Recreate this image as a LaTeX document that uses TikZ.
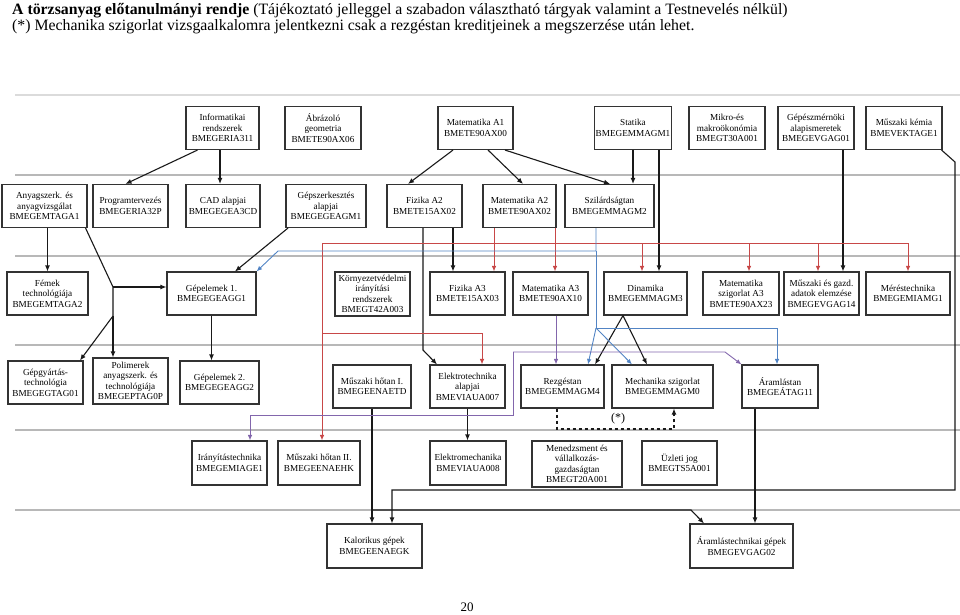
\documentclass[tikz,border=0pt]{standalone}
\usepackage{fontspec}
\setmainfont{Liberation Serif}
\usetikzlibrary{arrows.meta}
\definecolor{redc}{RGB}{200,72,72}
\definecolor{bluec}{RGB}{82,132,196}
\definecolor{purpc}{RGB}{130,102,172}
\begin{document}
\begin{tikzpicture}[x=1pt,y=-1pt,
  box/.style={draw=black!80, line width=1.1pt, align=center, inner sep=1pt, minimum height=43pt, font=\fontsize{9.2}{10.5}\selectfont},
  arr/.style={-{Latex[length=6pt,width=5pt]}, line width=1.1pt, black!90},
  line/.style={line width=1.1pt, black!90},
  redarr/.style={-{Latex[length=5.5pt,width=4.5pt]}, line width=0.9pt, redc},
  bluearr/.style={-{Latex[length=5.5pt,width=4.5pt]}, line width=0.9pt, bluec},
  purparr/.style={-{Latex[length=5.5pt,width=4.5pt]}, line width=0.9pt, purpc},
  lane/.style={black!28, line width=2.2pt}]
\useasboundingbox (0,0) rectangle (960,615);
\node[anchor=base west, inner sep=0, font=\fontsize{15.8}{18}\selectfont] (title) at (12,14.5) {\textbf{A törzsanyag előtanulmányi rendje} (Tájékoztató jelleggel a szabadon választható tárgyak valamint a Testnevelés nélkül)};
\node[anchor=base west, inner sep=0, font=\fontsize{15.8}{18}\selectfont] (note) at (12,31) {(*) Mechanika szigorlat vizsgaalkalomra jelentkezni csak a rezgéstan kreditjeinek a megszerzése után lehet.};
\draw[lane, black!14, line width=1.5pt] (15,95) -- (960,95);
\draw[lane] (15,175) -- (960,175);
\draw[lane] (15,256) -- (960,256);
\draw[lane] (15,345) -- (960,345);
\draw[lane] (15,430) -- (960,430);
\draw[lane] (15,510) -- (960,510);
\node[box, minimum width=73pt] (inf) at (222.5,128) {Informatikai\\rendszerek\\BMEGERIA311};
\node[box, minimum width=76pt] (abr) at (323,128) {Ábrázoló\\geometria\\BMETE90AX06};
\node[box, minimum width=75pt] (mata1) at (475.5,128) {Matematika A1\\BMETE90AX00};
\node[box, minimum width=76pt] (stat) at (633,128) {Statika\\BMEGEMMAGM1};
\node[box, minimum width=76pt] (mikro) at (727,128) {Mikro-és\\makroökonómia\\BMEGT30A001};
\node[box, minimum width=76pt] (gepalap) at (816,128) {Gépészmérnöki\\alapismeretek\\BMEGEVGAG01};
\node[box, minimum width=76pt] (kemia) at (904,128) {Műszaki kémia\\BMEVEKTAGE1};
\node[box, minimum width=85pt] (anyag) at (44.5,206) {Anyagszerk. és\\anyagvizsgálat\\BMEGEMTAGA1};
\node[box, minimum width=75pt] (prog) at (130.5,206) {Programtervezés\\BMEGERIA32P};
\node[box, minimum width=74pt] (cad) at (223,206) {CAD alapjai\\BMEGEGEA3CD};
\node[box, minimum width=80pt] (gepsz) at (326,206) {Gépszerkesztés\\alapjai\\BMEGEGEAGM1};
\node[box, minimum width=75pt] (fiza2) at (424.5,206) {Fizika A2\\BMETE15AX02};
\node[box, minimum width=73pt] (mata2) at (519.5,206) {Matematika A2\\BMETE90AX02};
\node[box, minimum width=89pt] (szil) at (609.5,206) {Szilárdságtan\\BMEGEMMAGM2};
\node[box, minimum width=81pt] (femek) at (47.5,293.5) {Fémek\\technológiája\\BMEGEMTAGA2};
\node[box, minimum width=89pt] (gepel1) at (211.5,293.5) {Gépelemek 1.\\BMEGEGEAGG1};
\node[box, minimum width=75pt, minimum height=44pt, inner sep=0pt] (korny) at (372.5,294) {Környezetvédelmi\\irányítási\\rendszerek\\BMEGT42A003};
\node[box, minimum width=75pt] (fiza3) at (467.5,293.5) {Fizika A3\\BMETE15AX03};
\node[box, minimum width=75pt] (mata3) at (550.5,293.5) {Matematika A3\\BMETE90AX10};
\node[box, minimum width=83pt] (dinam) at (645.5,293.5) {Dinamika\\BMEGEMMAGM3};
\node[box, minimum width=76pt] (matsz) at (741,293.5) {Matematika\\szigorlat A3\\BMETE90AX23};
\node[box, minimum width=75pt] (adat) at (821.5,293.5) {Műszaki és gazd.\\adatok elemzése\\BMEGEVGAG14};
\node[box, minimum width=84pt] (meres) at (908,293.5) {Méréstechnika\\BMEGEMIAMG1};
\node[box, minimum width=75pt] (gepgy) at (45.5,382.5) {Gépgyártás-\\technológia\\BMEGEGTAG01};
\node[box, minimum width=75pt, minimum height=46pt, inner sep=0pt] (polim) at (130.5,381) {Polimerek\\anyagszerk. és\\technológiája\\BMEGEPTAG0P};
\node[box, minimum width=79pt] (gepel2) at (219.5,382.5) {Gépelemek 2.\\BMEGEGEAGG2};
\node[box, minimum width=78pt] (hotan1) at (372,386.5) {Műszaki hőtan I.\\BMEGEENAETD};
\node[box, minimum width=75pt] (elektro) at (467.5,386.5) {Elektrotechnika\\alapjai\\BMEVIAUA007};
\node[box, minimum width=83pt] (rezg) at (562.5,386.5) {Rezgéstan\\BMEGEMMAGM4};
\node[box, minimum width=101pt] (mechsz) at (662.5,386.5) {Mechanika szigorlat\\BMEGEMMAGM0};
\node[box, minimum width=76pt] (aram) at (780,386.5) {Áramlástan\\BMEGEÁTAG11};
\node[box, minimum width=75pt, minimum height=44pt] (iranyt) at (229.5,463) {Irányítástechnika\\BMEGEMIAGE1};
\node[box, minimum width=82pt, minimum height=44pt] (hotan2) at (319,463) {Műszaki hőtan II.\\BMEGEENAEHK};
\node[box, minimum width=76pt, minimum height=44pt] (elmech) at (468,463) {Elektromechanika\\BMEVIAUA008};
\node[box, minimum width=90pt, minimum height=46pt, inner sep=0pt] (menedz) at (577,464) {Menedzsment és\\vállalkozás-\\gazdaságtan\\BMEGT20A001};
\node[box, minimum width=75pt, minimum height=44pt] (uzleti) at (679.5,463) {Üzleti jog\\BMEGTS5A001};
\node[box, minimum width=95pt, minimum height=44pt] (kalor) at (374.5,546) {Kalorikus gépek\\BMEGEENAEGK};
\node[box, minimum width=103pt, minimum height=44pt] (aramg) at (741.5,546) {Áramlástechnikai gépek\\BMEGEVGAG02};
\node[font=\fontsize{13}{15}\selectfont] (page) at (467,607) {20};
\draw[arr] ([xshift=-25pt]inf.south) -- ([xshift=-5pt]prog.north);
\draw[arr] ([xshift=-2.5pt]inf.south) -- ([xshift=-3pt]cad.north);
\draw[arr] ([xshift=-22.5pt]mata1.south) -- ([xshift=-16.5pt]fiza2.north);
\draw[arr] ([xshift=12.5pt]mata1.south) -- ([xshift=3.5pt]mata2.north);
\draw[arr] ([xshift=29.5pt]mata1.south) -- ([xshift=0.5pt]szil.north);
\draw[arr] (stat.south) -- ([xshift=23.5pt]szil.north);
\draw[arr] ([xshift=26pt]stat.south) -- ([xshift=13.5pt]dinam.north);
\draw[arr] ([xshift=27pt]gepalap.south) -- ([xshift=21.5pt]adat.north);
\coordinate (kemk) at (955,162);
\coordinate (kems) at (955,490);
\coordinate (kemw) at (392,490);
\draw[arr] ([xshift=-1pt]kemia.south east) -- (kemk) -- (kems) -- (kemw) -- (kemw |- kalor.north);
\draw[arr] (femek.north |- anyag.south) -- (femek.north);
\coordinate (fork) at (113,287);
\coordinate (forkb) at (113,316);
\draw[line] ([xshift=-2pt]anyag.south east) -- (fork) -- (forkb);
\draw[arr] (fork) -- (fork -| gepel1.west);
\draw[arr] (forkb) -- (forkb |- polim.north);
\draw[arr] (forkb) -- ([xshift=34.5pt]gepgy.north);
\draw[arr] ([xshift=-38pt]gepsz.south) -- ([xshift=23.5pt]gepel1.north);
\draw[arr] (gepel1.south) -- (gepel1.south |- gepel2.north);
\coordinate (fizk) at (423,350);
\draw[arr] (fiza2.south -| fizk) -- (fizk) -- ([xshift=-30.5pt]elektro.north);
\draw[arr] ([xshift=28.5pt]fiza2.south) -- ([xshift=-14.5pt]fiza3.north);
\draw[arr] ([xshift=-22.5pt]dinam.south) -- ([xshift=32.5pt]rezg.north);
\draw[arr] ([xshift=-22.5pt]dinam.south) -- ([xshift=-15.5pt]mechsz.north);
\draw[arr] (elektro.south) -- (elektro.south |- elmech.north);
\draw[arr] (hotan1.south) -- (hotan1.south |- kalor.north);
\coordinate (hotk) at (hotan1.south |- 0,510);
\coordinate (hote) at (691,510);
\draw[arr] (hotk) -- (hote) -- ([xshift=-37.5pt]aramg.north);
\draw[arr] ([xshift=-25pt]aram.south) -- ([xshift=13.5pt]aramg.north);
\coordinate (dsl) at (557,429);
\coordinate (dsr) at (674,429);
\draw[arr, dash pattern=on 3.5pt off 2.5pt] (rezg.south -| dsl) -- (dsl) -- (dsr) -- (mechsz.south -| dsr);
\node[font=\fontsize{12}{14}\selectfont] (star) at (618,419) {(*)};
\coordinate (rnw) at (322,243);
\coordinate (rne) at (908,243);
\draw[redarr] (rnw) -- (rne) -- (meres.north);
\draw[redarr] (rnw) -- (rnw |- hotan2.north);
\draw[redarr] ([xshift=-25.5pt]mata2.south) -- ([xshift=26.5pt]fiza3.north);
\draw[redarr] ([xshift=35.5pt]mata2.south) -- ([xshift=4.5pt]mata3.north);
\draw[redarr] ([xshift=-3.5pt]dinam.north |- rne) -- ([xshift=-3.5pt]dinam.north);
\draw[redarr] ([xshift=8pt]matsz.north |- rne) -- ([xshift=8pt]matsz.north);
\draw[redarr] ([xshift=-3.5pt]adat.north |- rne) -- ([xshift=-3.5pt]adat.north);
\coordinate (rsw) at (322,333);
\draw[redarr] (rsw) -- ([xshift=14.5pt]elektro.north |- rsw) -- ([xshift=14.5pt]elektro.north);
\coordinate (bn) at (596,251);
\coordinate (bw) at (278,251);
\coordinate (bs) at (596,328);
\coordinate (be) at (777,328);
\draw[bluearr] (szil.south -| bn) -- (bn) -- (bw) -- (gepel1.north east);
\draw[bluearr, -] (bn) -- (bs);
\draw[bluearr] (bs) -- (be) -- (be |- aram.north);
\draw[bluearr] (bs) -- ([xshift=25.5pt]rezg.north);
\draw[bluearr] (bs) -- ([xshift=-30.5pt]mechsz.north);
\draw[purparr] ([xshift=5.5pt]mata3.south) -- ([xshift=-6.5pt]rezg.north);
\coordinate (pnw) at (513,352);
\coordinate (pne) at (725,352);
\coordinate (psw) at (513,415);
\coordinate (pse) at (250,415);
\draw[purparr] (pnw) -- (pne) -- (aram.north west);
\draw[purparr] (pnw) -- (psw) -- (pse) -- (pse |- iranyt.north);
\end{tikzpicture}
\end{document}
